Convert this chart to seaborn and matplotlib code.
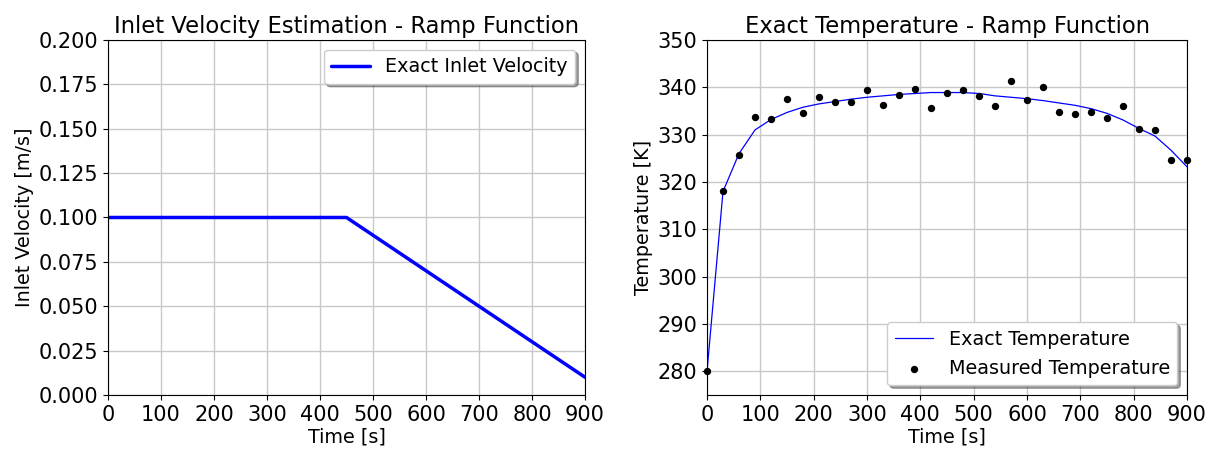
import matplotlib
matplotlib.use('Agg')
import matplotlib.pyplot as plt
import seaborn as sns
import pandas as pd

# --
# Data

vel_time = [0, 450, 900]
vel_exact = [0.100, 0.100, 0.010]

temp_time = [0, 30, 60, 90, 120, 150, 180, 210, 240, 270, 300,
             330, 360, 390, 420, 450, 480, 510, 540, 570, 600,
             630, 660, 690, 720, 750, 780, 810, 840, 870, 900]
temp_exact = [280.0, 318.0, 326.0, 331.0, 333.2, 334.7, 335.8, 336.5, 337.0, 337.5, 337.9,
              338.2, 338.5, 338.7, 338.9, 338.9, 338.9, 338.7, 338.2, 337.9, 337.6,
              337.2, 336.7, 336.2, 335.5, 334.5, 333.1, 331.3, 329.7, 326.7, 323.2]
temp_measured = [280.0, 318.1, 325.8, 333.7, 333.4, 337.5, 334.6, 338.0, 336.9, 337.0, 339.4,
                 336.3, 338.3, 339.6, 335.6, 338.9, 339.4, 338.2, 336.0, 341.3, 337.3,
                 340.1, 334.7, 334.3, 334.8, 333.6, 336.0, 331.2, 331.0, 324.7, 324.7]

vel = pd.DataFrame({'t': vel_time, 'v': vel_exact})
temp = pd.DataFrame({'t': temp_time, 'exact': temp_exact, 'meas': temp_measured})

# --
# Plot

sns.set_style('ticks')
plt.rcParams['font.family'] = ['DejaVu Sans']
plt.rcParams['font.size'] = 13
plt.rcParams['text.color'] = 'black'
plt.rcParams['axes.labelcolor'] = 'black'
plt.rcParams['xtick.color'] = 'black'
plt.rcParams['ytick.color'] = 'black'

fig = plt.figure(figsize=(12.15, 4.51), dpi=100)
ax1 = fig.add_axes([0.0889, 0.1242, 0.3926, 0.7871])
ax2 = fig.add_axes([0.5819, 0.1242, 0.3951, 0.7871])

sns.lineplot(data=vel, x='t', y='v', ax=ax1, color='blue', linewidth=2.5,
             label='Exact Inlet Velocity')
ax1.set_xlim(0, 900)
ax1.set_ylim(0, 0.2)
ax1.set_xticks(range(0, 901, 100))
ax1.set_yticks([0, 0.025, 0.05, 0.075, 0.1, 0.125, 0.15, 0.175, 0.2])
ax1.yaxis.set_major_formatter(matplotlib.ticker.FormatStrFormatter('%.3f'))
ax1.set_title('Inlet Velocity Estimation - Ramp Function', fontsize=16.3, pad=5)
ax1.set_xlabel('Time [s]', labelpad=2)
ax1.set_ylabel('Inlet Velocity [m/s]', labelpad=3)
ax1.legend(loc='upper right', shadow=True, fancybox=True, fontsize=13.8)

sns.lineplot(data=temp, x='t', y='exact', ax=ax2, color='blue', linewidth=0.9,
             label='Exact Temperature')
sns.scatterplot(data=temp, x='t', y='meas', ax=ax2, color='black', s=28,
                edgecolor='black', linewidth=0, label='Measured Temperature',
                zorder=3, clip_on=False)
ax2.set_xlim(0, 900)
ax2.set_ylim(275, 350)
ax2.set_xticks(range(0, 901, 100))
ax2.set_yticks(range(280, 351, 10))
ax2.set_title('Exact Temperature - Ramp Function', fontsize=16.3, pad=5)
ax2.set_xlabel('Time [s]', labelpad=2)
ax2.set_ylabel('Temperature [K]', labelpad=3)
ax2.legend(loc='lower right', shadow=True, fancybox=True, fontsize=13.8)

for ax in (ax1, ax2):
    ax.grid(True, color='#c8c8c8', linewidth=1)
    ax.set_axisbelow(True)
    for s in ax.spines.values():
        s.set_visible(True)
        s.set_color('black')
    ax.tick_params(labelsize=15)
    ax.xaxis.label.set_size(13.8)
    ax.yaxis.label.set_size(13.8)

fig.savefig('out.png', dpi=100)
